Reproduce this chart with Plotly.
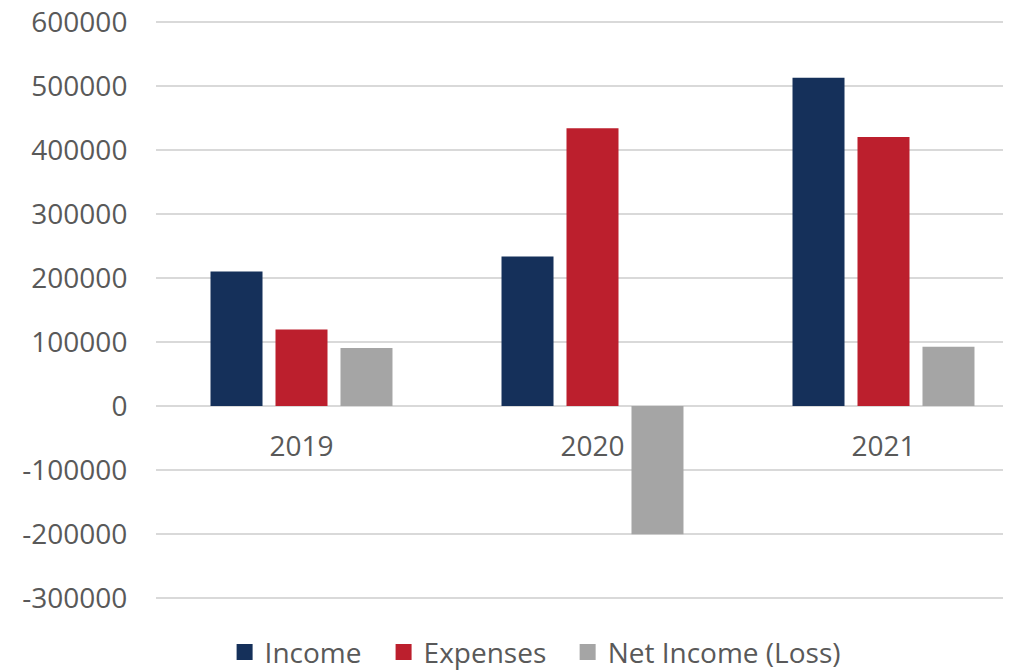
import plotly.graph_objects as go

years = ["2019", "2020", "2021"]
income = [210000, 233500, 513000]
expenses = [119500, 434000, 420500]
net_income = [90500, -200500, 92500]

series_names = ["Income", "Expenses", "Net Income (Loss)"]
series_colors = ["#15305A", "#BC1F2D", "#A5A5A5"]
legend_ids = ["legend", "legend2", "legend3"]
legend_x = [0.081, 0.2687, 0.486]

y_ticks = [-300000, -200000, -100000, 0, 100000, 200000, 300000, 400000, 500000, 600000]

FONT = "Open Sans"
TXT = "#595959"
GRID = "#D9D9D9"

fig = go.Figure()
for name, vals, col in zip(series_names, [income, expenses, net_income], series_colors):
    fig.add_trace(go.Bar(x=years, y=vals, name=name, marker=dict(color=col, line=dict(width=0)),
                         showlegend=False))
# legend proxies (larger square swatches), one legend each for Excel-like spacing
for name, col, lid in zip(series_names, series_colors, legend_ids):
    fig.add_trace(go.Scatter(x=[None], y=[None], mode="markers", name=name, legend=lid,
                             marker=dict(symbol="square", size=16, color=col)))

y_lo, y_hi = -301600, 601600
leg_common = dict(orientation="h", xanchor="left", y=-0.092, yanchor="middle",
                  font=dict(family=FONT, size=28, color=TXT), bgcolor="rgba(0,0,0,0)",
                  itemclick=False)
fig.update_layout(
    width=1013, height=671,
    margin=dict(l=156, r=10, t=21, b=72, autoexpand=False),
    paper_bgcolor="white", plot_bgcolor="white",
    barmode="group", bargap=0.33, bargroupgap=0.2,
    font=dict(family=FONT, color=TXT, size=28),
    showlegend=True,
    legend=dict(x=legend_x[0], **leg_common),
    legend2=dict(x=legend_x[1], **leg_common),
    legend3=dict(x=legend_x[2], **leg_common),
    xaxis=dict(type="category", range=[-0.5, 2.5 - 26 / 291], anchor="free",
               position=(0 - y_lo) / (y_hi - y_lo),
               showgrid=False, showline=False, zeroline=False,
               ticks="outside", ticklen=15, tickcolor="rgba(0,0,0,0)",
               tickfont=dict(family=FONT, size=28, color=TXT)),
    yaxis=dict(range=[y_lo, y_hi], tickvals=y_ticks, ticktext=[str(v) for v in y_ticks],
               showgrid=True, gridcolor=GRID, gridwidth=1.5,
               zeroline=True, zerolinecolor=GRID, zerolinewidth=1.5,
               showline=False, ticks="outside", ticklen=22, tickcolor="rgba(0,0,0,0)",
               tickfont=dict(family=FONT, size=28, color=TXT)),
)

fig.write_html("out.html", config={"displayModeBar": False},
               post_script="document.body.style.margin='0';document.body.style.overflow='hidden';")
